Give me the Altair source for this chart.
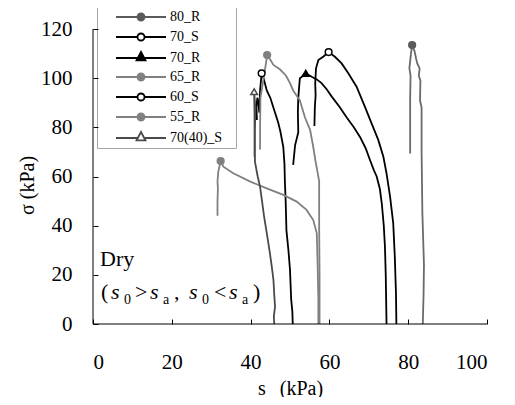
import altair as alt
import pandas as pd

# ---------------- data ----------------
series_names = ["80_R", "70_S", "70_R", "65_R", "60_S", "55_R", "70(40)_S"]

s_80R = [80.5, 80.5, 80.5, 80.6, 80.3, 80.7, 81.0, 81.6, 82.0, 82.3, 82.9, 82.7, 83.1, 83.0, 83.4, 83.4, 83.6, 84.0, 83.9, 83.7]
sig_80R = [69.4, 80, 92, 101, 104, 110, 113.5, 111, 108, 106, 104, 101, 99, 91, 88, 70, 45, 24, 12, 0]

s_70S = [41.6, 41.5, 41.7, 42.0, 42.2, 42.4, 42.8, 43.3, 44.1, 45.0, 45.8, 47.0, 47.6, 48.3, 48.6, 48.7, 48.9, 49.1, 49.6, 50.0, 50.3, 50.6, 50.7]
sig_70S = [83, 88, 92, 90, 86, 95, 102, 100, 95, 92, 88, 82, 78, 72, 65, 58, 50, 38, 30, 22, 10, 5, 0]

s_70R = [50.8, 51.0, 51.3, 51.8, 52.1, 52.0, 52.1, 52.5, 53.0, 53.5, 54.0, 55.5, 56.8, 58.0, 59.3, 60.6, 62.5, 64.4, 66.2, 67.8, 69.2, 70.3, 71.3, 72.0, 72.8, 73.3, 73.8, 74.1, 74.3, 74.4, 74.5]
sig_70R = [64.7, 68, 72.8, 76, 78, 86, 92, 100, 100.5, 101.5, 102, 100.6, 99.5, 98, 95.5, 92.5, 88.5, 84, 80, 76, 71.5, 66.7, 62.5, 60, 55, 49, 40, 31.4, 20, 10, 0]

s_65R = [42.4, 42.4, 42.5, 42.9, 43.3, 43.7, 44.2, 45.0, 45.8, 47.5, 49.0, 50.0, 50.8, 52.5, 53.8, 55.1, 55.9, 56.5, 56.9, 57.4, 57.4, 57.5, 57.5]
sig_65R = [71, 80, 92, 96, 100, 104, 109.4, 107.5, 105.4, 103.5, 101, 98, 95, 91, 84, 79, 72, 66, 62.6, 58, 40, 20, 0]

s_60S = [56.2, 56.3, 56.5, 56.4, 56.6, 57.2, 58.5, 59.8, 61.4, 63.1, 64.8, 66.9, 69.0, 70.7, 72.4, 73.7, 74.5, 75.4, 76.2, 76.6, 76.9, 77.0]
sig_60S = [80.5, 88, 93, 98, 104, 107.4, 108.8, 110.6, 108.7, 106, 102, 96.5, 88.4, 81.6, 74.9, 68, 61.3, 51.8, 41, 27.4, 12.5, 0]

s_55R = [31.6, 31.6, 31.7, 31.6, 31.8, 32.4, 33.1, 35.6, 39.8, 44.1, 48.3, 51.7, 54.2, 55.9, 56.8, 57.0, 57.2, 57.2]
sig_55R = [44, 50, 55, 58, 62, 66.3, 64, 61.3, 58, 55.2, 52.5, 49.8, 46.4, 42.3, 36.9, 25, 10, 0]

s_7040S = [41.0, 41.0, 40.9, 41.2, 41.1, 41.1, 41.8, 42.4, 42.9, 43.4, 44.0, 44.5, 44.9, 45.4, 45.8, 46.0, 46.2, 45.9, 46.0]
sig_7040S = [68, 85, 94.5, 88, 78, 66, 60, 55.9, 50, 44, 38, 33, 28.8, 23, 17.9, 12, 7, 3, 0]

x_tick_values = [0, 10, 20, 30, 40, 50, 60, 70, 80, 90, 100]
y_tick_values = [0, 10, 20, 30, 40, 50, 60, 70, 80, 90, 100, 110, 120]
x_range = [0, 100]
y_range = [0, 120]

# ---------------- styles ----------------
line_colors = ["#6a6a6a", "#000000", "#000000", "#808080", "#000000", "#808080", "#4a4a4a"]
marker_strokes = ["#5a5a5a", "#000000", "#000000", "#808080", "#000000", "#808080", "#4a4a4a"]
marker_fills = ["#5a5a5a", "#ffffff", "#000000", "#808080", "#ffffff", "#808080", "#ffffff"]
marker_shapes = ["circle", "circle", "triangle-up", "circle", "circle", "circle", "triangle-up"]

# legend symbols: a short line with the marker in the middle (the trailing move
# only widens the legend frame, it draws nothing)
CIRC = "M-3.125,0H-0.44M0.44,0H3.125M0.44,0A0.44,0.44,0,1,1,-0.44,0A0.44,0.44,0,1,1,0.44,0ZM11,0"
TRI = "M-3.125,0H-0.4M0.4,0H3.125M0,-0.75L0.56,0.3L-0.56,0.3ZM11,0"
legend_paths = [CIRC, CIRC, TRI, CIRC, CIRC, CIRC, TRI]

FONT = "'Liberation Serif', 'Times New Roman', serif"

# ---------------- tables ----------------
curves = [
    (s_80R, sig_80R), (s_70S, sig_70S), (s_70R, sig_70R), (s_65R, sig_65R),
    (s_60S, sig_60S), (s_55R, sig_55R), (s_7040S, sig_7040S),
]
rows = []
for name, (xs, ys) in zip(series_names, curves):
    for i, (a, b) in enumerate(zip(xs, ys)):
        rows.append({"series": name, "s": a, "sigma": b, "idx": i})
df = pd.DataFrame(rows)
peaks = df.loc[df.groupby("series")["sigma"].idxmax()].reset_index(drop=True)

xscale = alt.Scale(domain=x_range, nice=False)
yscale = alt.Scale(domain=y_range, nice=False)

# axes: ticks point into the plot (axis shifted inwards by the tick length),
# the axis lines themselves are drawn as rules below
lines = alt.Chart(df).mark_line(strokeWidth=1.8).encode(
    x=alt.X("s:Q", scale=xscale, axis=alt.Axis(
        orient="bottom", values=x_tick_values, grid=False, domain=False, offset=-5, zindex=2,
        labelExpr="datum.value % 20 == 0 ? datum.label : ''",
        ticks=True, tickSize=5, tickColor="black", tickWidth=1, tickOpacity=1,
        labelPadding=27, labelFontSize=21, labelFont=FONT, labelColor="black",
        title="s\u2002\u2009(kPa)", titleFont=FONT, titleFontSize=20, titleFontWeight="normal",
        titleColor="black", titleBaseline="alphabetic", titleY=75)),
    y=alt.Y("sigma:Q", scale=yscale, axis=alt.Axis(
        orient="left", values=y_tick_values, grid=False, domain=False, offset=-5, zindex=2,
        labelExpr="datum.value % 20 == 0 ? datum.label : ''",
        ticks=True, tickSize=5, tickColor="black", tickWidth=1, tickOpacity=1,
        labelPadding=21, labelFontSize=21, labelFont=FONT, labelColor="black",
        title="\u03c3 (kPa)", titleFont=FONT, titleFontSize=20, titleFontWeight="normal",
        titleColor="black", titleBaseline="alphabetic", titleX=-65, titleY=156, titleAngle=-90)),
    order="idx:Q",
    detail="series:N",
    stroke=alt.Stroke("series:N", scale=alt.Scale(domain=series_names, range=line_colors), legend=None),
)

one = pd.DataFrame({"k": [0]})
x_axis_line = alt.Chart(one).mark_rule(color="black", strokeWidth=1).encode(
    x=alt.datum(x_range[0]), x2=alt.datum(x_range[1]), y=alt.datum(y_range[0]))
y_axis_line = alt.Chart(one).mark_rule(color="black", strokeWidth=1).encode(
    y=alt.datum(y_range[0]), y2=alt.datum(y_range[1]), x=alt.datum(x_range[0]))

markers = alt.Chart(peaks).mark_point(filled=True, size=45, strokeWidth=1.5, opacity=1).encode(
    x=alt.X("s:Q", scale=xscale),
    y=alt.Y("sigma:Q", scale=yscale),
    shape=alt.Shape("series:N", scale=alt.Scale(domain=series_names, range=marker_shapes), legend=None),
    fill=alt.Fill("series:N", scale=alt.Scale(domain=series_names, range=marker_fills), legend=None),
    stroke=alt.Stroke("series:N", scale=alt.Scale(domain=series_names, range=marker_strokes), legend=None),
)

leg = alt.Legend(
    orient="none", legendX=4, legendY=-24, title=None, padding=3,
    strokeColor="#a6a6a6", fillColor="white", cornerRadius=0,
    symbolSize=256, symbolOffset=32, labelOffset=20, rowPadding=3,
    symbolStrokeWidth=1.8, symbolOpacity=1,
    labelFont=FONT, labelFontSize=14, labelColor="black", labelLimit=0,
)
legend_layer = alt.Chart(peaks).mark_point(filled=True, opacity=0).encode(
    x=alt.X("s:Q", scale=xscale),
    y=alt.Y("sigma:Q", scale=yscale),
    shape=alt.Shape("series:N", scale=alt.Scale(domain=series_names, range=legend_paths), legend=leg),
    fill=alt.Fill("series:N", scale=alt.Scale(domain=series_names, range=marker_fills), legend=leg),
    stroke=alt.Stroke("series:N", scale=alt.Scale(domain=series_names, range=marker_strokes), legend=leg),
)

# ---------------- annotations ----------------
ann_dry = pd.DataFrame({"s": [1.8], "sigma": [26.5], "t": ["Dry"]})
ann_cond = pd.DataFrame({"s": [2.0], "sigma": [10.3]})
dry = alt.Chart(ann_dry).mark_text(align="left", baseline="middle", font=FONT, fontSize=22, color="black").encode(
    x=alt.X("s:Q", scale=xscale), y=alt.Y("sigma:Q", scale=yscale), text="t:N")

# (text, kind, dx) for the condition line "(s0>sa, s0<sa)"
segments = [("(", "n", 0), ("s", "i", 10), ("0", "sub", 23), (">", "n", 34), ("s", "i", 49), ("a", "sub", 62),
            (",", "n", 73), ("s", "i", 88), ("0", "sub", 101), ("<", "n", 113), ("s", "i", 128), ("a", "sub", 141),
            (")", "n", 152)]
seg_layers = []
for txt, kind, dx in segments:
    kw = dict(align="left", baseline="alphabetic", font=FONT, color="black", text=txt, dx=dx)
    if kind == "n":
        kw.update(fontSize=22)
    elif kind == "i":
        kw.update(fontSize=22, fontStyle="italic")
    else:
        kw.update(fontSize=14, dy=5)
    seg_layers.append(alt.Chart(ann_cond).mark_text(**kw).encode(
        x=alt.X("s:Q", scale=xscale), y=alt.Y("sigma:Q", scale=yscale)))

chart = alt.layer(lines, x_axis_line, y_axis_line, markers, legend_layer, dry, *seg_layers).resolve_scale(
    shape="independent", fill="independent", stroke="independent"
).properties(
    width=394, height=295,
    autosize=alt.AutoSizeParams(type="none"),
    padding={"left": 85, "top": 21, "right": 20, "bottom": 73},
).configure(font=FONT).configure_view(stroke=None).configure_axis(
    labelFont=FONT, titleFont=FONT
).configure_legend(labelFont=FONT).configure_text(font=FONT)

chart.save("out.html", embed_options={"renderer": "svg", "actions": False})
